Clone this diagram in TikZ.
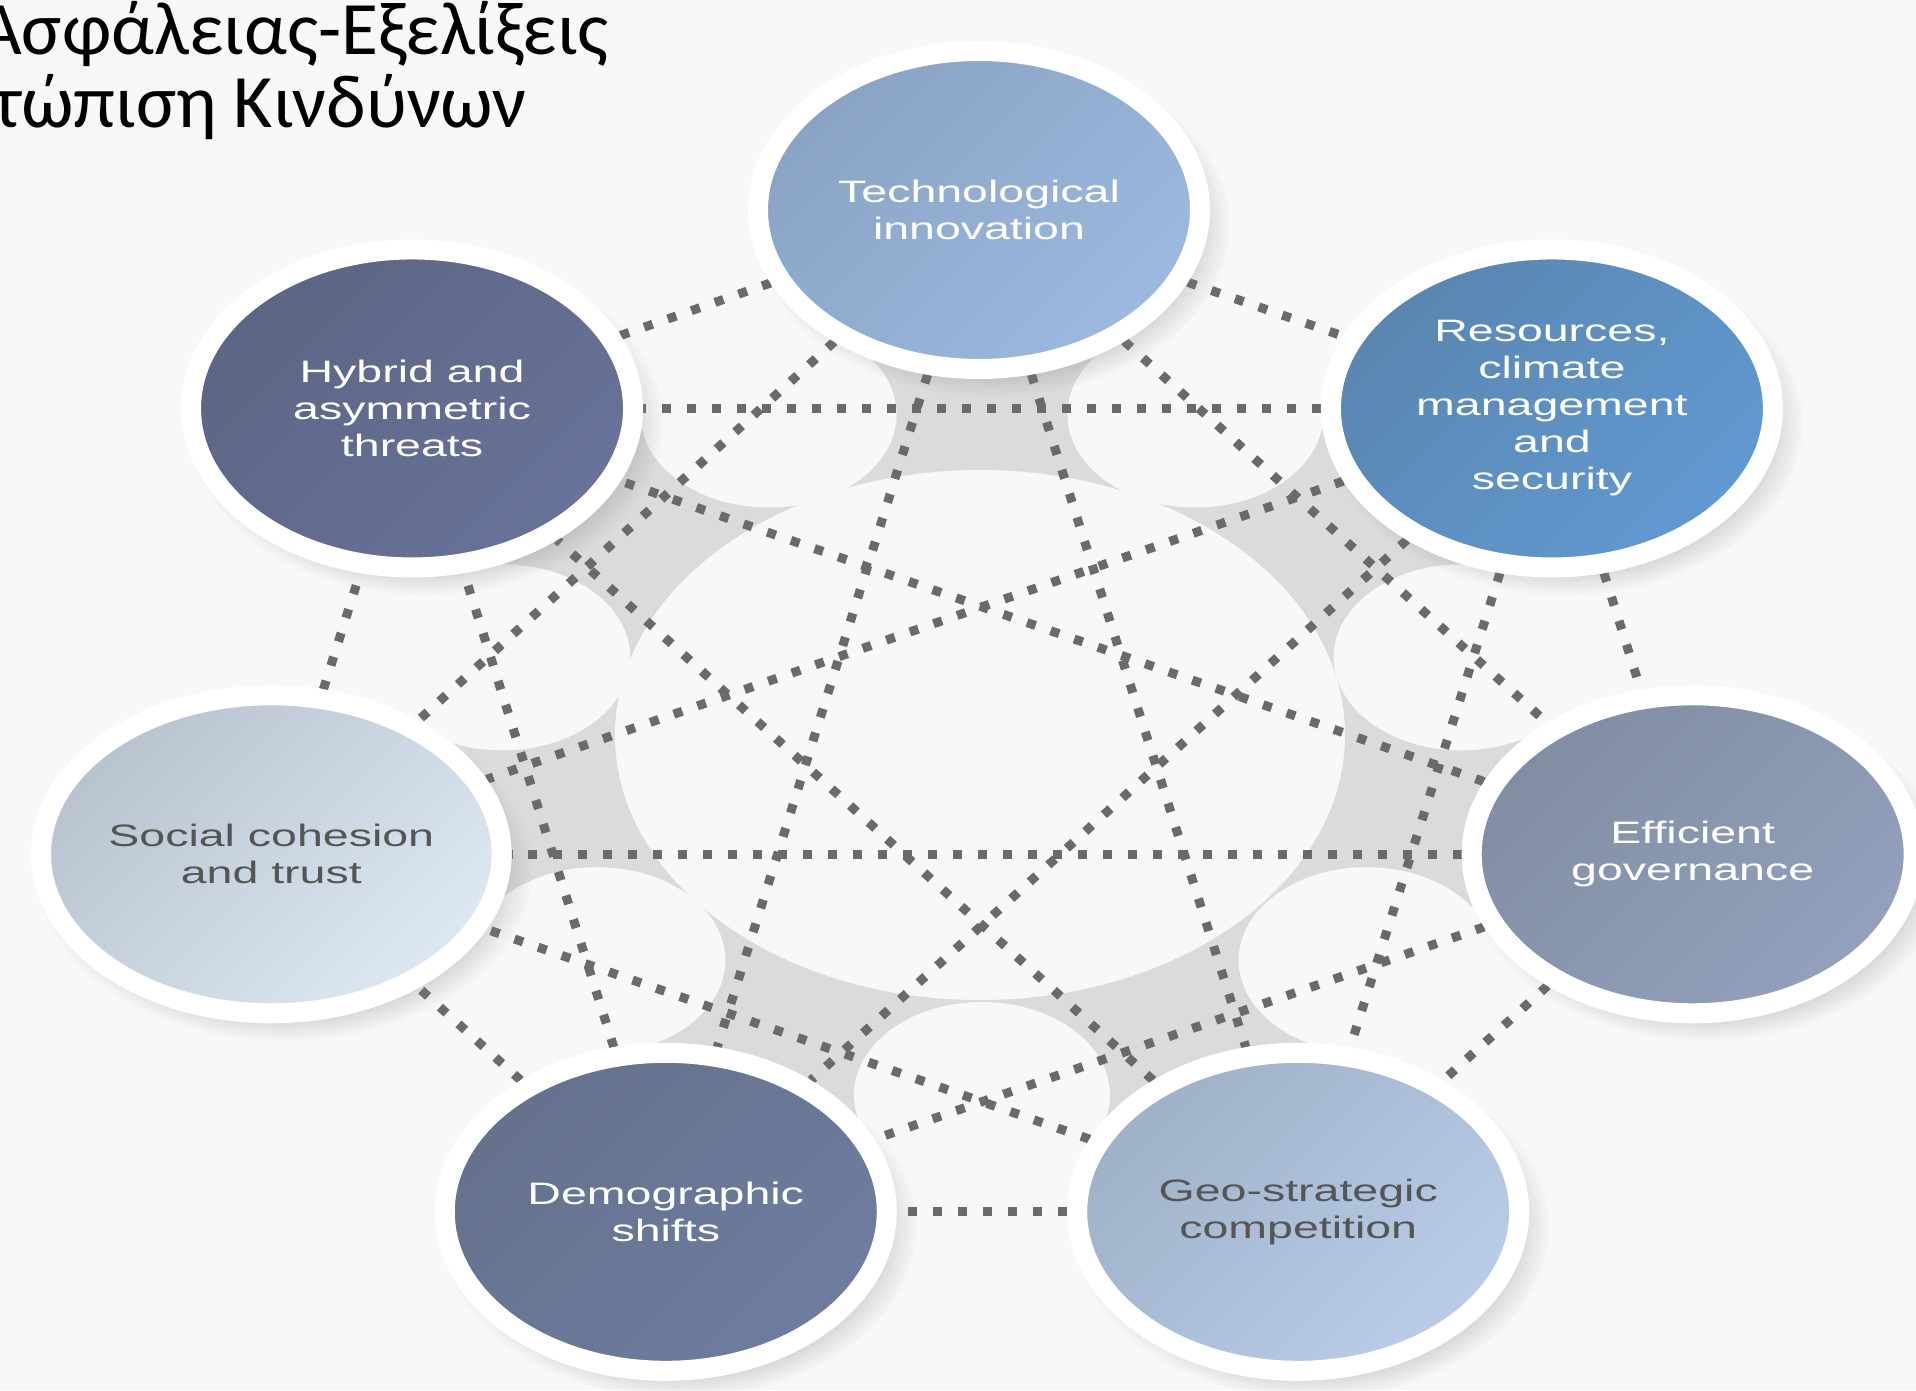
\documentclass[tikz,border=0pt]{standalone}
\usepackage{fontspec}
\usepackage{tikz}
\usetikzlibrary{shapes, positioning, backgrounds, shadows, fadings}
\newfontfamily\titleFont{Carlito}
\newfontfamily\riskFont[FakeStretch=1.5]{Liberation Sans}
\definecolor{cPaper}{RGB}{248, 248, 247}
\definecolor{cWell}{RGB}{219, 219, 219}
\definecolor{cDots}{RGB}{106, 106, 106}
\definecolor{cDarkText}{RGB}{85, 85, 85}
\definecolor{cTechTop}{RGB}{138, 163, 196}
\definecolor{cTechBot}{RGB}{156, 185, 223}
\definecolor{cHybridTop}{RGB}{93, 101, 131}
\definecolor{cHybridBot}{RGB}{104, 115, 154}
\definecolor{cResTop}{RGB}{89, 134, 176}
\definecolor{cResBot}{RGB}{98, 153, 210}
\definecolor{cSocialTop}{RGB}{185, 195, 208}
\definecolor{cSocialBot}{RGB}{222, 232, 244}
\definecolor{cGovTop}{RGB}{128, 141, 163}
\definecolor{cGovBot}{RGB}{147, 161, 189}
\definecolor{cDemoTop}{RGB}{101, 113, 140}
\definecolor{cDemoBot}{RGB}{110, 125, 160}
\definecolor{cGeoTop}{RGB}{159, 177, 200}
\definecolor{cGeoBot}{RGB}{186, 205, 232}
\tikzset{
    riskNode/.style 2 args={
        ellipse, minimum width=442pt, minimum height=318pt, inner sep=0pt,
        draw=white, line width=20pt,
        top color=#1, bottom color=#2, shading angle=45,
        circular drop shadow={shadow xshift=12pt, shadow yshift=-14pt, opacity=0.3, shadow scale=1.08},
        align=center, text=white,
        font=\riskFont\fontsize{31}{37}\selectfont
    },
    linkLine/.style={
        draw=cDots, line width=9pt, dash pattern=on 9pt off 16pt
    },
    holeFill/.style={fill=cPaper},
    titleText/.style={
        anchor=base west, inner sep=0pt,
        font=\titleFont\fontsize{75.5}{75.5}\selectfont
    }
}

\begin{document}
\begin{tikzpicture}[x=1pt, y=1pt]
    \useasboundingbox (-982,-653) rectangle (934,737);

    \node[titleText] (titleTop) at (-1004,682) {Ασφάλειας-Εξελίξεις};
    \node[titleText] (titleBottom) at (-990,609) {τώπιση Κινδύνων};

    \node[riskNode={cTechTop}{cTechBot}] (tech) at (-3,527) {Technological\\innovation};
    \node[riskNode={cResTop}{cResBot}] (resources) at (38.57:729 and 527) {Resources,\\climate\\management\\and\\security};
    \node[riskNode={cGovTop}{cGovBot}] (governance) at (347.14:729 and 527) {Efficient\\governance};
    \node[riskNode={cGeoTop}{cGeoBot}, text=cDarkText] (geostrategic) at (295.71:729 and 527) {Geo-strategic\\competition};
    \node[riskNode={cDemoTop}{cDemoBot}] (demographic) at (244.29:729 and 527) {Demographic\\shifts};
    \node[riskNode={cSocialTop}{cSocialBot}, text=cDarkText] (social) at (192.86:729 and 527) {Social cohesion\\and trust};
    \node[riskNode={cHybridTop}{cHybridBot}] (hybrid) at (141.43:729 and 527) {Hybrid and\\asymmetric\\threats};

    \begin{pgfonlayer}{background}
        \fill[cPaper] (-982,-653) rectangle (934,737);
        \fill[cWell] (0,0) ellipse (543 and 395);
        \fill[holeFill] (-2,2) ellipse (365 and 265);
        \foreach \ang in {12.86, 64.29, 115.71, 167.14, 218.57, 270, 321.43}
            \fill[holeFill] (\ang:492 and 358) ellipse (128 and 93);
        \foreach \from/\to in {tech/resources, tech/governance, tech/geostrategic, tech/demographic, tech/social, tech/hybrid,
                resources/governance, resources/geostrategic, resources/demographic, resources/social, resources/hybrid,
                governance/geostrategic, governance/demographic, governance/social, governance/hybrid,
                geostrategic/demographic, geostrategic/social, geostrategic/hybrid,
                demographic/social, demographic/hybrid, social/hybrid}
            \draw[linkLine] (\from) -- (\to);
    \end{pgfonlayer}
\end{tikzpicture}
\end{document}
